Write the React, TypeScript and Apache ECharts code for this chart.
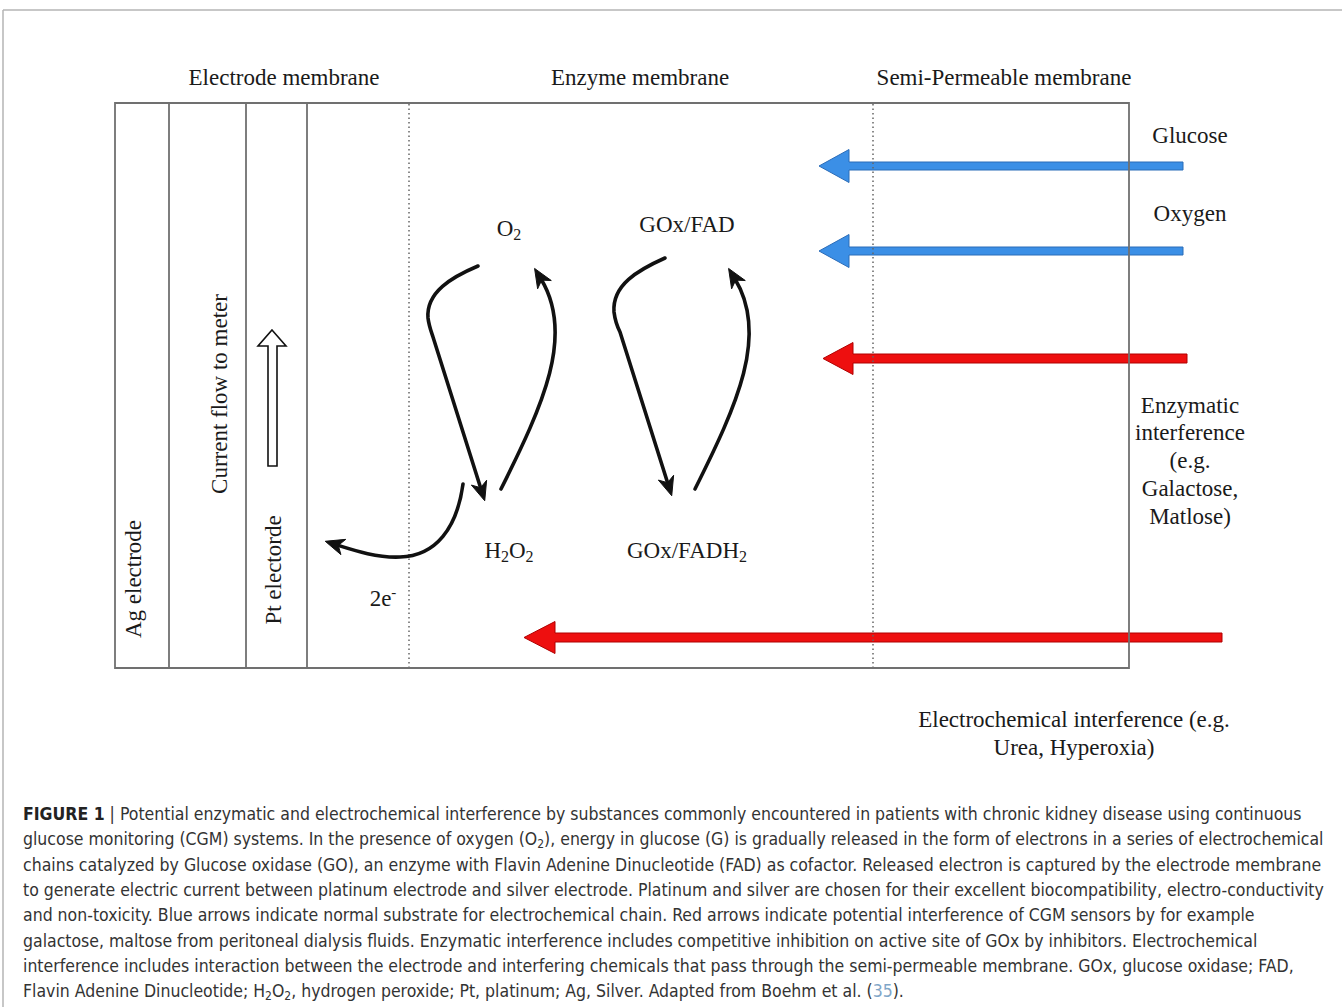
import React, { useEffect, useRef } from "react";
import * as echarts from "echarts";

// ---- Text content ----
const membraneHeadings = ["Electrode membrane", "Enzyme membrane", "Semi-Permeable membrane"];
const layerLabels = ["Ag electrode", "Current flow to meter", "Pt electorde"];
const speciesLabels = ["O{s|2}", "GOx/FAD", "H{s|2}O{s|2}", "GOx/FADH{s|2}", "2e{p|-}"];
const substrateLabels = ["Glucose", "Oxygen"];
const enzymaticLines = ["Enzymatic", "interference", "(e.g.", "Galactose,", "Matlose)"];
const electroLines = ["Electrochemical interference (e.g.", "Urea, Hyperoxia)"];
const captionLines = [
  "{b|FIGURE 1} | Potential enzymatic and electrochemical interference by substances commonly encountered in patients with chronic kidney disease using continuous",
  "glucose monitoring (CGM) systems. In the presence of oxygen (O{s|2}), energy in glucose (G) is gradually released in the form of electrons in a series of electrochemical",
  "chains catalyzed by Glucose oxidase (GO), an enzyme with Flavin Adenine Dinucleotide (FAD) as cofactor. Released electron is captured by the electrode membrane",
  "to generate electric current between platinum electrode and silver electrode. Platinum and silver are chosen for their excellent biocompatibility, electro-conductivity",
  "and non-toxicity. Blue arrows indicate normal substrate for electrochemical chain. Red arrows indicate potential interference of CGM sensors by for example",
  "galactose, maltose from peritoneal dialysis fluids. Enzymatic interference includes competitive inhibition on active site of GOx by inhibitors. Electrochemical",
  "interference includes interaction between the electrode and interfering chemicals that pass through the semi-permeable membrane. GOx, glucose oxidase; FAD,",
  "Flavin Adenine Dinucleotide; H{s|2}O{s|2}, hydrogen peroxide; Pt, platinum; Ag, Silver. Adapted from Boehm et al. ({c|35}).",
];

// ---- Layout (positions / sizes) ----
const SERIF = "'Liberation Serif', 'Times New Roman', serif";
const SANS = "'Liberation Sans Narrow', 'DejaVu Sans Condensed', 'Liberation Sans', sans-serif";
const INK = "#1a1a1a";
const CAP = 17.5;
const headingX = [284, 640, 1004];
const layerPos = [[133, 579], [219, 394], [273, 570]];
const speciesPos = [[509, 228], [687, 224], [509, 550], [687, 550], [383, 598]];
const substratePos = [[1190, 135], [1190, 213]];
const blockArrows = [
  { y: 166, tip: 819, back: 849, end: 1183, hh: 16.5, sh: 4, fill: "#3b8fe6", stroke: "#2b6cb8" },
  { y: 251, tip: 819, back: 849, end: 1183, hh: 16.5, sh: 4, fill: "#3b8fe6", stroke: "#2b6cb8" },
  { y: 358.5, tip: 823, back: 853, end: 1187, hh: 16, sh: 4.5, fill: "#ee0f0f", stroke: "#b00000" },
  { y: 637.5, tip: 524, back: 555, end: 1222, hh: 16, sh: 4.5, fill: "#ee0f0f", stroke: "#b00000" },
];
const curveArrows = [
  { d: "M478,266 C452,277 426,292 428,318 C429,326 431,331 433,337 L481,489", end: [481, 489], dir: [48, 152] },
  { d: "M501,489 C543,405 575,335 541,279", end: [541, 279], dir: [-34, -56] },
  { d: "M665,258 C638,270 612,285 614,312 C615,320 617,326 620,332 L668,484", end: [668, 484], dir: [48, 152] },
  { d: "M695,489 C737,405 769,335 735,279", end: [735, 279], dir: [-34, -56] },
  { d: "M463,484 C457,528 436,556 400,557 C378,558 356,551 337,545", end: [337, 545], dir: [-19, -6] },
];

function arrowHead(end: number[], dir: number[], len = 19, half = 8) {
  const l = Math.hypot(dir[0], dir[1]);
  const dx = dir[0] / l, dy = dir[1] / l;
  const nx = -dy, ny = dx;
  const tip = [end[0] + dx * len * 0.65, end[1] + dy * len * 0.65];
  const bx = tip[0] - dx * len, by = tip[1] - dy * len;
  return [
    tip,
    [bx + nx * half, by + ny * half],
    [tip[0] - dx * len * 0.72, tip[1] - dy * len * 0.72],
    [bx - nx * half, by - ny * half],
  ];
}

curveArrows.forEach((c, i) => {
  echarts.graphic.registerShape("curveArrow" + i, echarts.graphic.extendPath(c.d, {}) as any);
});

function buildElements() {
  const els: any[] = [];
  // outer frame
  els.push({ type: "line", shape: { x1: 3, y1: 10, x2: 1342, y2: 10 }, style: { stroke: "#b4b4b4", lineWidth: 1.5 } });
  els.push({ type: "line", shape: { x1: 3, y1: 10, x2: 3, y2: 1007 }, style: { stroke: "#b4b4b4", lineWidth: 1.5 } });

  // headings
  membraneHeadings.forEach((t, i) => {
    els.push({ type: "text", x: headingX[i], y: 77, style: { text: t, fontSize: 23, fontFamily: SERIF, fill: INK, align: "center", verticalAlign: "middle" } });
  });

  // block arrows (blue / red)
  blockArrows.forEach((a) => {
    els.push({
      type: "polygon",
      shape: {
        points: [
          [a.tip, a.y], [a.back, a.y - a.hh], [a.back, a.y - a.sh], [a.end, a.y - a.sh],
          [a.end, a.y + a.sh], [a.back, a.y + a.sh], [a.back, a.y + a.hh],
        ],
      },
      style: { fill: a.fill, stroke: a.stroke, lineWidth: 1 },
    });
  });

  // box
  els.push({ type: "rect", shape: { x: 115, y: 103, width: 1014, height: 565 }, style: { fill: "none", stroke: "#707070", lineWidth: 1.8 } });
  [169, 246, 307].forEach((x) => {
    els.push({ type: "line", shape: { x1: x, y1: 103, x2: x, y2: 668 }, style: { stroke: "#707070", lineWidth: 1.8 } });
  });
  [409, 873].forEach((x) => {
    els.push({ type: "line", shape: { x1: x, y1: 104, x2: x, y2: 667 }, style: { stroke: "#666", lineWidth: 1.5, lineDash: [1.5, 3] } });
  });

  // layer labels (rotated)
  layerLabels.forEach((t, i) => {
    els.push({ type: "text", x: layerPos[i][0], y: layerPos[i][1], rotation: Math.PI / 2, style: { text: t, fontSize: 23, fontFamily: SERIF, fill: INK, align: "center", verticalAlign: "middle" } });
  });

  // hollow arrow
  els.push({
    type: "polygon",
    shape: { points: [[272, 330], [286, 346], [277, 346], [277, 466], [268, 466], [268, 346], [258, 346]] },
    style: { fill: "#fff", stroke: "#111", lineWidth: 1.6 },
  });

  // curved arrows
  curveArrows.forEach((c, i) => {
    els.push({ type: "curveArrow" + i, style: { fill: "none", stroke: "#111", lineWidth: 3.6, lineCap: "round", lineJoin: "round" } });
    els.push({ type: "polygon", shape: { points: arrowHead(c.end, c.dir) }, style: { fill: "#111", stroke: "#111", lineWidth: 1 } });
  });

  // species labels
  const richDia = {
    s: { fontSize: 16, fontFamily: SERIF, fill: INK, lineHeight: 12, verticalAlign: "bottom" },
    p: { fontSize: 15, fontFamily: SERIF, fill: INK, lineHeight: 10, verticalAlign: "top" },
  };
  speciesLabels.forEach((t, i) => {
    els.push({ type: "text", x: speciesPos[i][0], y: speciesPos[i][1], style: { text: t, fontSize: 23, lineHeight: 28, fontFamily: SERIF, fill: INK, align: "center", verticalAlign: "middle", rich: richDia } });
  });

  substrateLabels.forEach((t, i) => {
    els.push({ type: "text", x: substratePos[i][0], y: substratePos[i][1], style: { text: t, fontSize: 23, fontFamily: SERIF, fill: INK, align: "center", verticalAlign: "middle" } });
  });
  enzymaticLines.forEach((t, i) => {
    els.push({ type: "text", x: 1190, y: 405 + i * 27.8, style: { text: t, fontSize: 23, fontFamily: SERIF, fill: INK, align: "center", verticalAlign: "middle" } });
  });
  electroLines.forEach((t, i) => {
    els.push({ type: "text", x: 1074, y: 719 + i * 28, style: { text: t, fontSize: 23, fontFamily: SERIF, fill: INK, align: "center", verticalAlign: "middle" } });
  });

  // caption
  const richCap = {
    b: { fontSize: CAP, fontFamily: SANS, fontWeight: "bold", fill: "#222", lineHeight: 22 },
    s: { fontSize: 12, fontFamily: SANS, fill: "#333", lineHeight: 10, verticalAlign: "bottom" },
    c: { fontSize: CAP, fontFamily: SANS, fill: "#7fa6c8", lineHeight: 22 },
  };
  captionLines.forEach((t, i) => {
    els.push({ type: "text", x: 23, y: 814 + i * 25.3, style: { text: t, fontSize: CAP, lineHeight: 22, fontFamily: SANS, fill: "#333", align: "left", verticalAlign: "middle", rich: richCap } });
  });
  return els;
}

export default function App() {
  const ref = useRef<HTMLDivElement>(null);
  useEffect(() => {
    if (!ref.current) return;
    const chart = echarts.init(ref.current, null, { renderer: "svg" });
    chart.setOption({
      animation: false,
      backgroundColor: "#ffffff",
      graphic: { elements: buildElements() },
    });
    return () => chart.dispose();
  }, []);
  return <div ref={ref} style={{ position: "absolute", left: 0, top: 0, width: 1342, height: 1007 }} />;
}
